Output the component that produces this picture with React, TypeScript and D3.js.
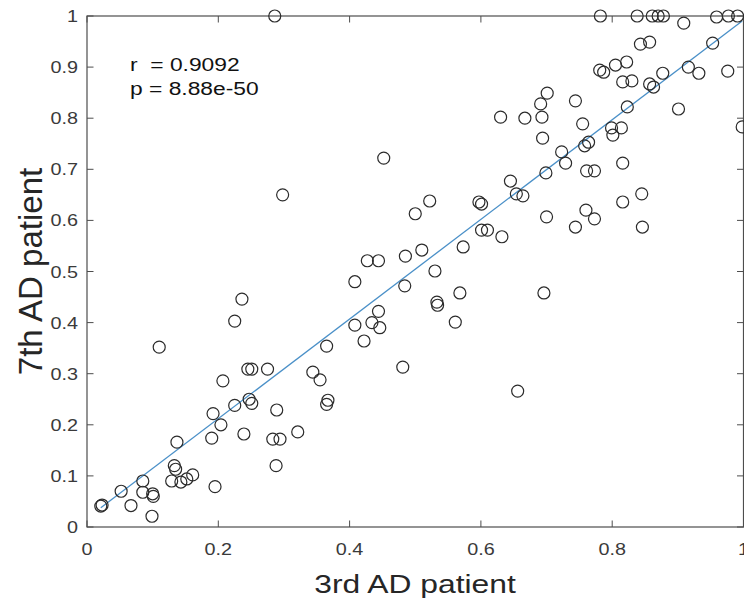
import React from "react";
import * as d3 from "d3";

// 3rd AD patient (x) vs 7th AD patient (y)
const xValues: number[] = [
  0.021, 0.023, 0.052, 0.067, 0.085, 0.085, 0.100, 0.101, 0.099, 0.137,
  0.133, 0.135, 0.129, 0.143, 0.152, 0.161, 0.195, 0.190, 0.192, 0.204,
  0.207, 0.225, 0.247, 0.251, 0.239, 0.289, 0.283, 0.294, 0.288, 0.321,
  0.110, 0.236, 0.225, 0.245, 0.251, 0.275, 0.344, 0.355, 0.365, 0.365,
  0.367, 0.286, 0.298, 0.452, 0.522, 0.500, 0.597, 0.601, 0.654, 0.664,
  0.645, 0.700, 0.601, 0.610, 0.632, 0.573, 0.510, 0.485, 0.427, 0.444,
  0.408, 0.530, 0.484, 0.568, 0.696, 0.533, 0.534, 0.561, 0.444, 0.434,
  0.446, 0.408, 0.422, 0.481, 0.656, 0.630, 0.667, 0.782, 0.838, 0.861,
  0.870, 0.878, 0.909, 0.959, 0.977, 0.991, 0.843, 0.857, 0.953, 0.781,
  0.787, 0.805, 0.822, 0.816, 0.830, 0.857, 0.863, 0.877, 0.916, 0.932,
  0.976, 0.998, 0.901, 0.823, 0.799, 0.801, 0.814, 0.744, 0.701, 0.691,
  0.693, 0.755, 0.694, 0.758, 0.764, 0.723, 0.729, 0.699, 0.761, 0.773,
  0.816, 0.845, 0.816, 0.760, 0.744, 0.773, 0.846,
];
const yValues: number[] = [
  0.041, 0.043, 0.070, 0.042, 0.090, 0.068, 0.065, 0.060, 0.021, 0.166,
  0.120, 0.113, 0.090, 0.088, 0.094, 0.102, 0.079, 0.174, 0.222, 0.200,
  0.286, 0.238, 0.250, 0.242, 0.182, 0.229, 0.172, 0.172, 0.120, 0.186,
  0.352, 0.446, 0.403, 0.309, 0.309, 0.309, 0.303, 0.288, 0.354, 0.240,
  0.248, 1.000, 0.650, 0.722, 0.638, 0.613, 0.636, 0.632, 0.652, 0.648,
  0.677, 0.607, 0.581, 0.581, 0.568, 0.548, 0.542, 0.530, 0.521, 0.521,
  0.480, 0.501, 0.472, 0.458, 0.458, 0.440, 0.434, 0.401, 0.422, 0.400,
  0.390, 0.395, 0.364, 0.313, 0.266, 0.802, 0.800, 1.000, 1.000, 1.000,
  1.000, 1.000, 0.986, 0.998, 1.000, 1.000, 0.945, 0.949, 0.947, 0.894,
  0.890, 0.904, 0.910, 0.871, 0.873, 0.867, 0.861, 0.888, 0.900, 0.888,
  0.892, 0.783, 0.818, 0.822, 0.781, 0.767, 0.781, 0.834, 0.849, 0.828,
  0.802, 0.789, 0.761, 0.746, 0.753, 0.734, 0.712, 0.693, 0.697, 0.697,
  0.712, 0.652, 0.636, 0.620, 0.587, 0.603, 0.587,
];
const xTicks: number[] = [0, 0.2, 0.4, 0.6, 0.8, 1];
const yTicks: number[] = [0, 0.1, 0.2, 0.3, 0.4, 0.5, 0.6, 0.7, 0.8, 0.9, 1];
const fitIntercept = 0.017;
const fitSlope = 0.975;
const statLines: string[] = ["r  = 0.9092", "p = 8.88e-50"];
const xLabel = "3rd AD patient";
const yLabel = "7th AD patient";

const W = 744;
const H = 604;
const FONT = "'Liberation Sans', Arial, Helvetica, sans-serif";
const SX = 1.2; // horizontal stretch of text in the reference

function SText(props: {
  x: number;
  y: number;
  size: number;
  anchor?: string;
  fill?: string;
  children: React.ReactNode;
}) {
  const { x, y, size, anchor = "start", fill = "#333", children } = props;
  return (
    <text
      transform={`translate(${x},${y}) scale(${SX},1)`}
      fontSize={size}
      fontFamily={FONT}
      textAnchor={anchor}
      fill={fill}
      style={{ whiteSpace: "pre" }}
    >
      {children}
    </text>
  );
}

export default function App() {
  const x = d3.scaleLinear().domain([0, 1]).range([87, 743.5]);
  const y = d3.scaleLinear().domain([0, 1]).range([527, 16]);
  const tickLen = 6.5;
  const axisColor = "#4d4d4d";

  const [xmin, xmax] = d3.extent(xValues) as [number, number];
  const fitLine = d3
    .line<number>()
    .x((d) => x(d))
    .y((d) => y(fitIntercept + fitSlope * d));

  return (
    <svg
      width={W}
      height={H}
      style={{ position: "absolute", left: 0, top: 0, background: "#fff" }}
    >
      <rect x={0} y={0} width={W} height={H} fill="#fff" />
      {/* box */}
      <rect
        x={x(0)}
        y={y(1)}
        width={x(1) - x(0)}
        height={y(0) - y(1)}
        fill="none"
        stroke={axisColor}
        strokeWidth={1.2}
      />
      {/* x ticks */}
      {xTicks.map((t) => (
        <g key={"xt" + t}>
          <line x1={x(t)} x2={x(t)} y1={y(0)} y2={y(0) - tickLen} stroke={axisColor} strokeWidth={1} />
          <line x1={x(t)} x2={x(t)} y1={y(1)} y2={y(1) + tickLen} stroke={axisColor} strokeWidth={1} />
          <SText x={x(t)} y={555} size={16.5} anchor="middle" fill="#3a3a3a">
            {d3.format("~g")(t)}
          </SText>
        </g>
      ))}
      {/* y ticks */}
      {yTicks.map((t) => (
        <g key={"yt" + t}>
          <line x1={x(0)} x2={x(0) + tickLen} y1={y(t)} y2={y(t)} stroke={axisColor} strokeWidth={1} />
          <line x1={x(1)} x2={x(1) - tickLen} y1={y(t)} y2={y(t)} stroke={axisColor} strokeWidth={1} />
          <SText x={78} y={y(t) + 6} size={16.5} anchor="end" fill="#3a3a3a">
            {d3.format("~g")(t)}
          </SText>
        </g>
      ))}
      {/* fit line */}
      <path d={fitLine([xmin, xmax]) || ""} fill="none" stroke="#4a90c8" strokeWidth={1.3} />
      {/* points */}
      {xValues.map((v, i) => (
        <circle
          key={i}
          cx={x(v)}
          cy={y(yValues[i])}
          r={6}
          fill="none"
          stroke="#2b2b2b"
          strokeWidth={1.2}
        />
      ))}
      {/* stats */}
      {statLines.map((s, i) => (
        <SText key={s} x={130} y={71 + i * 24} size={19} fill="#111">
          {s}
        </SText>
      ))}
      {/* axis labels */}
      <SText x={415} y={593} size={26.5} anchor="middle" fill="#262626">
        {xLabel}
      </SText>
      <text
        transform={`translate(42,${(163 + 380) / 2}) rotate(-90)`}
        fontSize={33}
        fontFamily={FONT}
        textAnchor="middle"
        fill="#262626"
      >
        {yLabel}
      </text>
    </svg>
  );
}
